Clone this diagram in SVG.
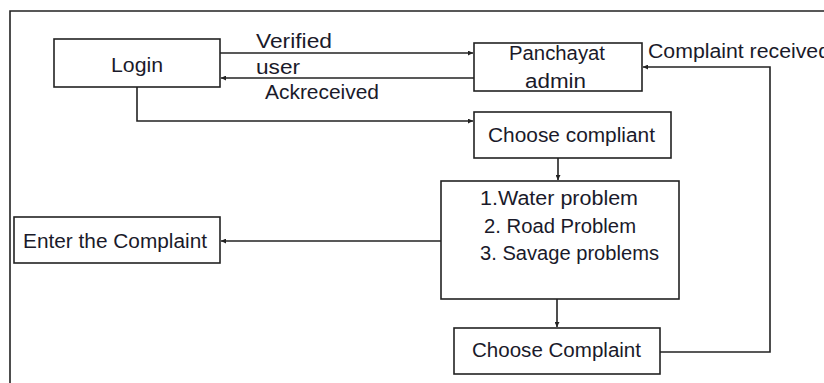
<svg xmlns="http://www.w3.org/2000/svg" width="824" height="383" viewBox="0 0 824 383">
<style>
.box{fill:#fff;stroke:#222;stroke-width:1.6}
.t{font-family:"Liberation Sans",Arial,sans-serif;font-size:20px;fill:#1a1a2a}
.c{fill:none;stroke:#222;stroke-width:1.6}
</style>
<defs>
<marker id="ah" viewBox="0 0 8 8" refX="8" refY="4" markerWidth="5" markerHeight="5" orient="auto" markerUnits="userSpaceOnUse">
<path d="M0,0 L8,4 L0,8 z" fill="#222"/>
</marker>
</defs>
<rect x="0" y="0" width="824" height="383" fill="#fff"/>
<path d="M10,383 V11 H824" fill="none" stroke="#222" stroke-width="1.6"/>
<g id="connectors">
<path class="c" d="M220,53 H473" marker-end="url(#ah)"/>
<path class="c" d="M474,78 H221" marker-end="url(#ah)"/>
<path class="c" d="M137,87 V121 H473" marker-end="url(#ah)"/>
<path class="c" d="M558,153 V180" marker-end="url(#ah)"/>
<path class="c" d="M441,241 H221" marker-end="url(#ah)"/>
<path class="c" d="M557,299 V327" marker-end="url(#ah)"/>
<path class="c" d="M660,352 H770 V67 H643" marker-end="url(#ah)"/>
<text class="t" x="256" y="48" textLength="76" lengthAdjust="spacingAndGlyphs">Verified</text>
<text class="t" x="256" y="74" textLength="44" lengthAdjust="spacingAndGlyphs">user</text>
<text class="t" x="265" y="99" textLength="114" lengthAdjust="spacingAndGlyphs">Ackreceived</text>
<text class="t" x="648" y="58" textLength="182" lengthAdjust="spacingAndGlyphs">Complaint received</text>
</g>
<g id="login">
<rect class="box" x="54" y="39" width="166" height="48"/>
<text class="t" x="111" y="72" textLength="52" lengthAdjust="spacingAndGlyphs">Login</text>
</g>
<g id="panchayat">
<rect class="box" x="474" y="43" width="168" height="48"/>
<text class="t" x="509" y="60" textLength="96" lengthAdjust="spacingAndGlyphs">Panchayat</text>
<text class="t" x="525" y="88" textLength="61" lengthAdjust="spacingAndGlyphs">admin</text>
</g>
<g id="choose-compliant">
<rect class="box" x="474" y="112" width="197" height="46"/>
<text class="t" x="488" y="142" textLength="167" lengthAdjust="spacingAndGlyphs">Choose compliant</text>
</g>
<g id="problems">
<rect class="box" x="441" y="181" width="238" height="118"/>
<text class="t" x="480" y="205" textLength="158" lengthAdjust="spacingAndGlyphs">1.Water problem</text>
<text class="t" x="484" y="233" textLength="152" lengthAdjust="spacingAndGlyphs">2. Road Problem</text>
<text class="t" x="480" y="260" textLength="179" lengthAdjust="spacingAndGlyphs">3. Savage problems</text>
</g>
<g id="enter-complaint">
<rect class="box" x="14" y="217" width="206" height="46"/>
<text class="t" x="23" y="248" textLength="184" lengthAdjust="spacingAndGlyphs">Enter the Complaint</text>
</g>
<g id="choose-complaint">
<rect class="box" x="454" y="328" width="206" height="46"/>
<text class="t" x="472" y="357" textLength="169" lengthAdjust="spacingAndGlyphs">Choose Complaint</text>
</g>
</svg>
